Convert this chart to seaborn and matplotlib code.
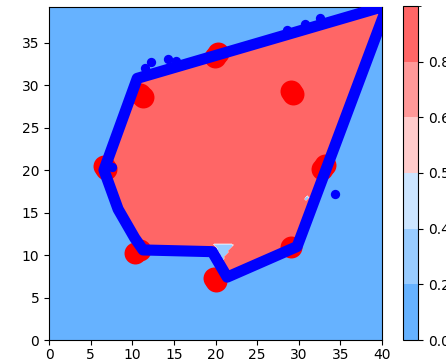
import numpy as np
import matplotlib
matplotlib.use("Agg")
import matplotlib.pyplot as plt
from matplotlib.colors import ListedColormap, BoundaryNorm
from matplotlib.path import Path
import seaborn as sns

# Class-1 boundary points (blue), traced around the region
blue_x = [41.0, 10.6, 6.6, 8.3, 10.3, 11.3, 19.6, 21.4, 29.8, 40.7]
blue_y = [39.5, 30.8, 20.0, 15.4, 12.0, 10.6, 10.4, 7.4, 11.0, 39.5]

# Stray blue samples lying just off the boundary
stray_x = [11.5, 12.3, 14.3, 15.3, 7.6, 34.3, 28.6, 30.7, 32.5]
stray_y = [32.0, 32.7, 33.1, 32.9, 20.4, 17.2, 36.5, 37.2, 37.9]

# Class-0 clusters (red)
red_x = [19.9, 20.3, 29.1, 29.3, 10.9, 11.3, 6.8, 6.6, 32.8, 33.2, 29.1, 10.3, 10.9, 20.0, 19.8]
red_y = [33.3, 33.8, 29.3, 28.9, 29.0, 28.6, 20.1, 20.5, 20.1, 20.6, 11.0, 10.3, 10.6, 6.9, 7.3]

# Decision-surface levels and colours
levels = [0.0, 0.2, 0.4, 0.5, 0.6, 0.8, 1.0]
band_colors = ["#66b2ff", "#99ccff", "#cce5ff", "#ffcccc", "#ff9999", "#ff6666"]
cbar_ticks = [0.0, 0.2, 0.4, 0.5, 0.6, 0.8]

# Small low-confidence pockets inside the predicted region: (polygon, value)
pockets = [
    ([(19.7, 11.3), (22.2, 11.3), (20.9, 9.2)], 0.3),
    ([(22.0, 11.2), (22.8, 11.9), (22.4, 11.2)], 0.6),
    ([(30.5, 16.7), (30.95, 17.15), (31.4, 16.7), (30.95, 16.25)], 0.3),
]
dots = [(29.75, 15.5, 0.65)]

# Predicted probability on a grid
h = 0.25
gx = np.arange(0.0, 40.0 + h, h)
gy = np.arange(0.0, 39.5 + h, h)
xx, yy = np.meshgrid(gx, gy)
pts = np.column_stack([xx.ravel(), yy.ravel()])
region = Path(list(zip(blue_x, blue_y)), closed=False)
Z = region.contains_points(pts).astype(float)
for poly, val in pockets:
    Z[Path(poly).contains_points(pts)] = val
Z = Z.reshape(xx.shape)
for px, py, val in dots:
    Z[int(round(py / h)), int(round(px / h))] = val

fig = plt.figure(figsize=(4.46, 3.61), dpi=100)
ax = fig.add_axes([49 / 446, 21 / 361, 333 / 446, 333 / 361])
cax = fig.add_axes([403 / 446, 21 / 361, 15 / 446, 334 / 361])

cmap = ListedColormap(band_colors)
norm = BoundaryNorm(levels, cmap.N)
cs = ax.contourf(xx, yy, Z, levels=levels, cmap=cmap, norm=norm)

sns.scatterplot(x=red_x, y=red_y, color="red", s=250, linewidth=0, ax=ax, zorder=3)
sns.lineplot(x=blue_x, y=blue_y, sort=False, estimator=None, color="blue",
             linewidth=8, solid_joinstyle="round", solid_capstyle="round",
             ax=ax, zorder=4)
sns.scatterplot(x=stray_x, y=stray_y, color="blue", s=45, linewidth=0, ax=ax, zorder=4)

ax.set_xlim(0, 40)
ax.set_ylim(0, 39.2)
ax.set_xticks(np.arange(0, 41, 5))
ax.set_yticks(np.arange(0, 36, 5))
ax.tick_params(axis="x", pad=2.5)

cb = fig.colorbar(cs, cax=cax)
cb.set_ticks(cbar_ticks)
cb.set_ticklabels([f"{t:.1f}" for t in cbar_ticks])

fig.savefig("out.png", dpi=100)
